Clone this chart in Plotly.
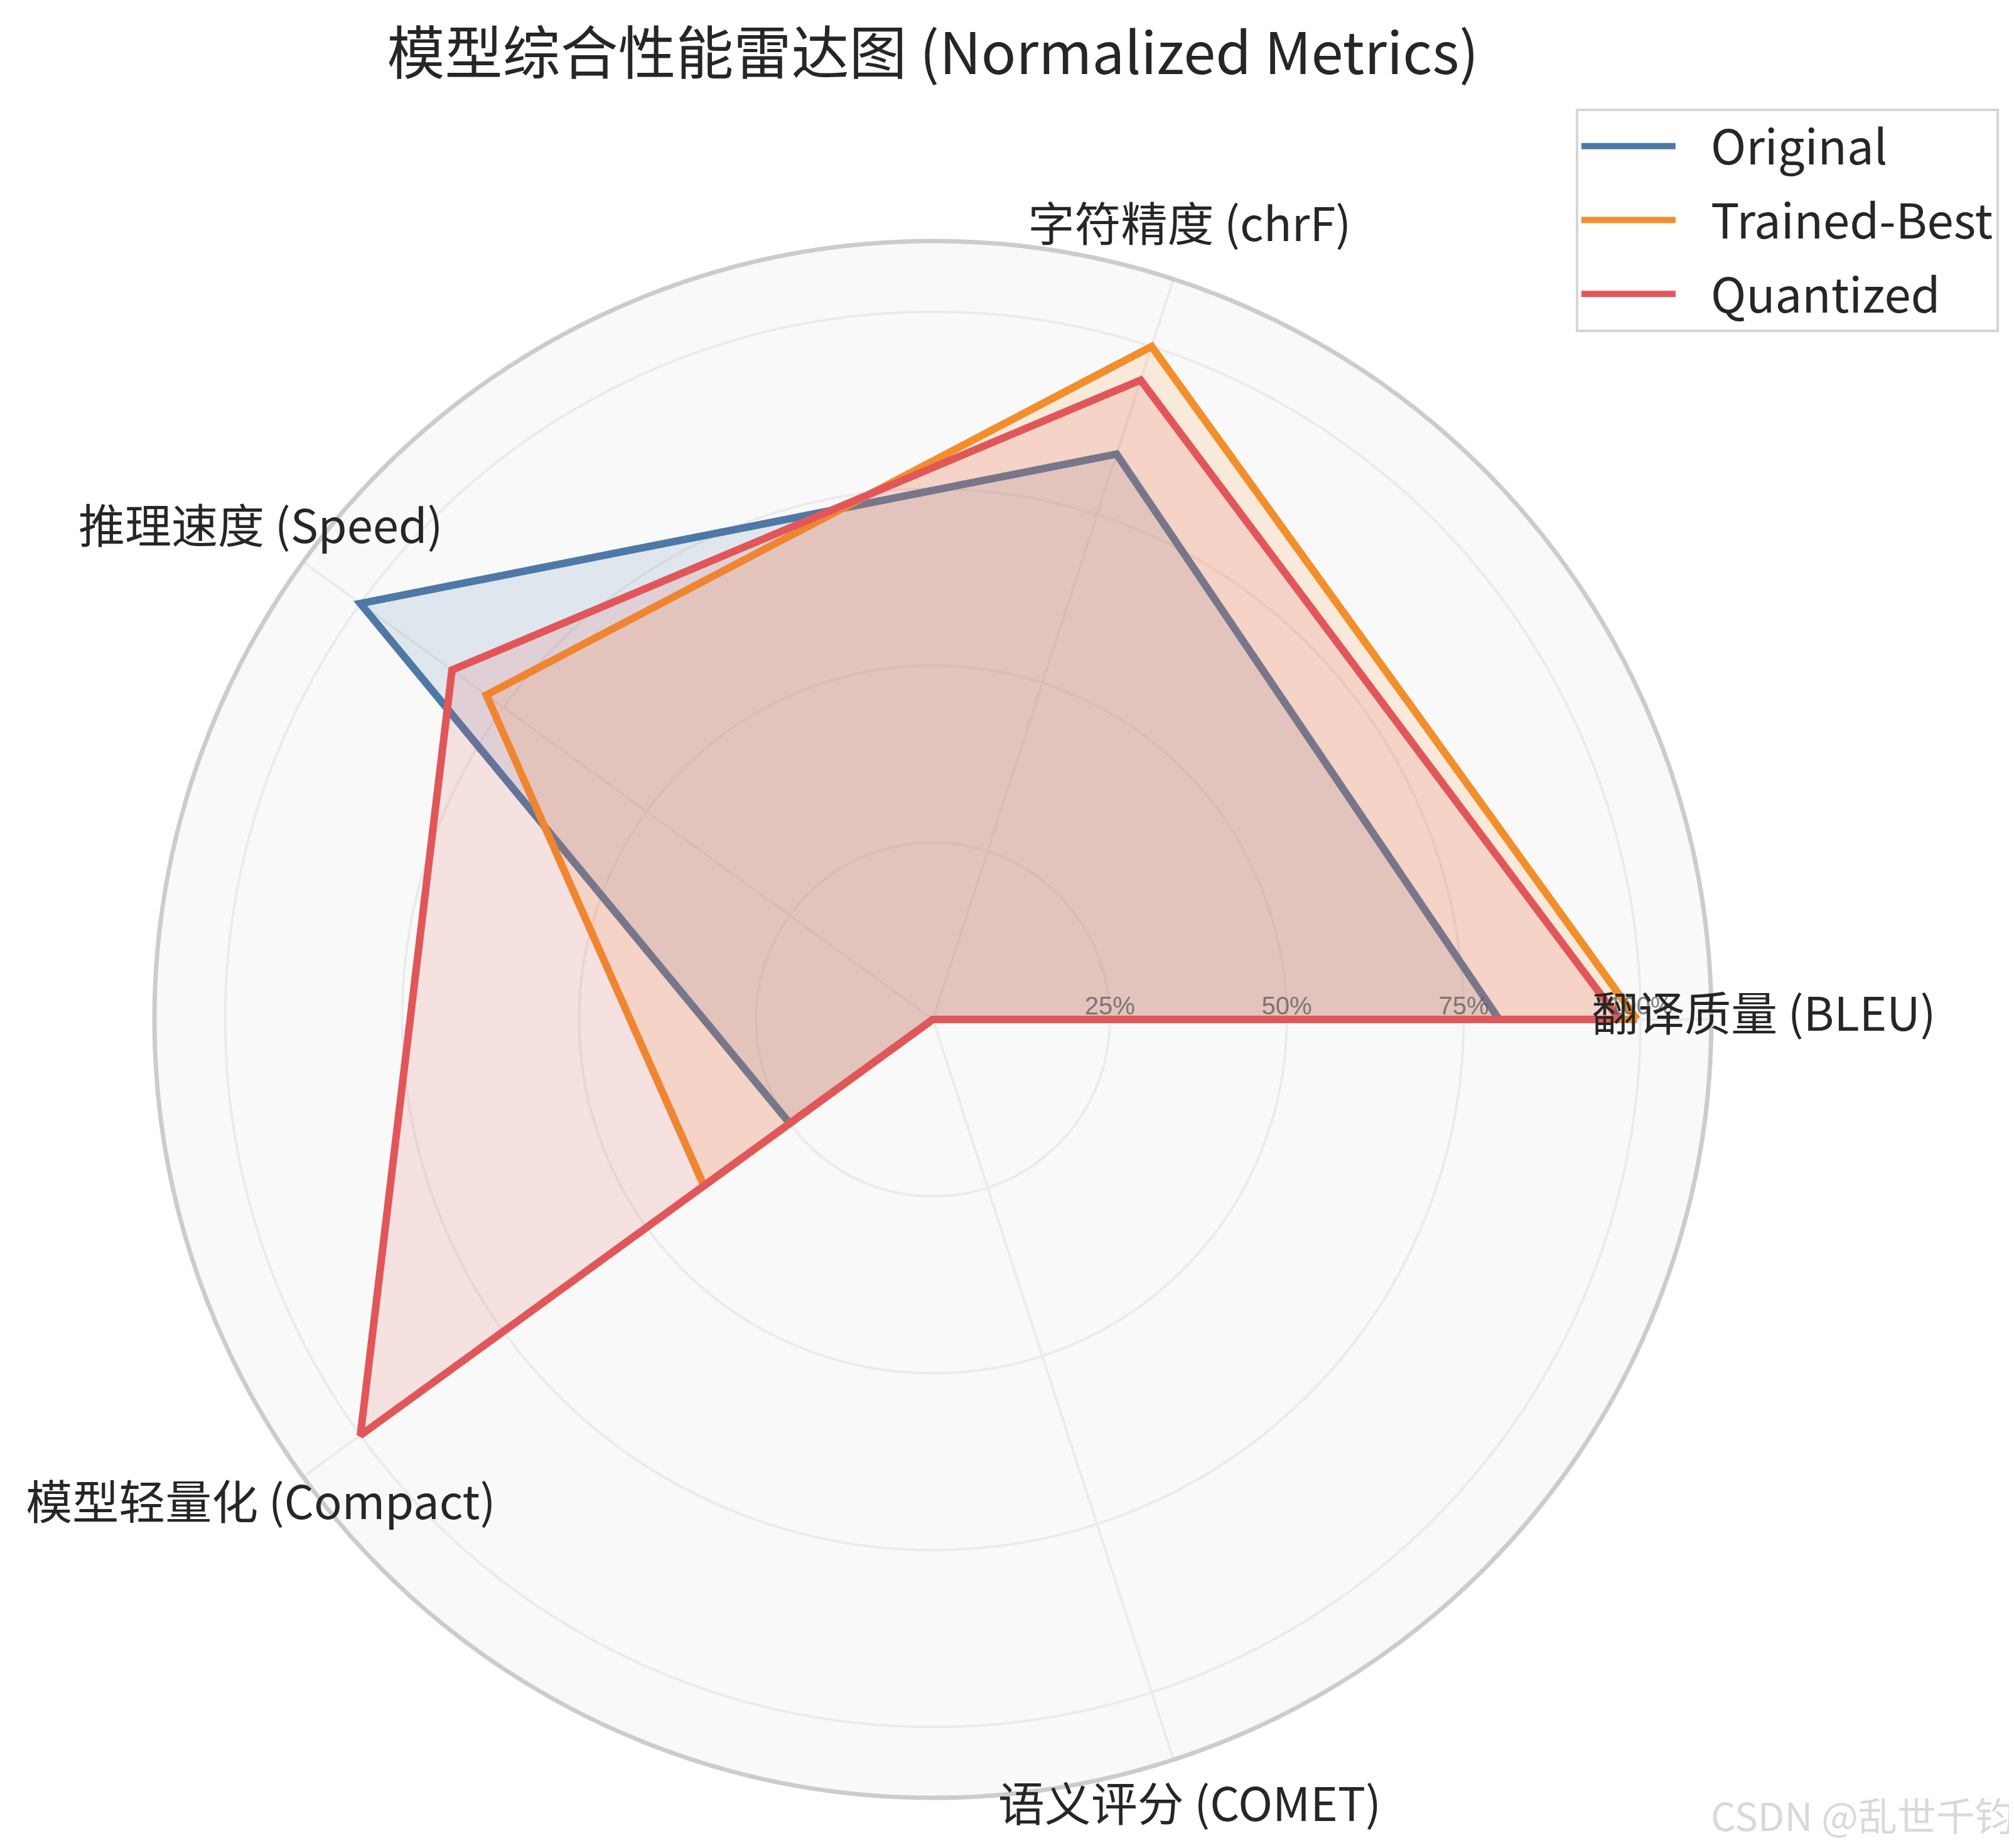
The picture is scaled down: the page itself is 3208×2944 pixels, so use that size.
import plotly.graph_objects as go

# axes of the radar, counterclockwise from 3 o'clock
categories = ["翻译质量 (BLEU)", "字符精度 (chrF)", "推理速度 (Speed)",
              "模型轻量化 (Compact)", "语义评分 (COMET)"]

# normalized scores (0..1)
original = [0.80, 0.84, 1.00, 0.25, 0.0]
trained_best = [0.995, 1.00, 0.78, 0.40, 0.0]
quantized = [0.97, 0.95, 0.84, 1.00, 0.0]

model_names = ["Original", "Trained-Best", "Quantized"]
radial_ticks = [0.25, 0.50, 0.75, 1.00]
radial_tick_text = ["25%", "50%", "75%", "100%"]

colors = ["#4e79a7", "#f28e2b", "#e15759"]
fills = ["rgba(78,121,167,0.15)", "rgba(242,142,43,0.15)", "rgba(225,87,89,0.15)"]

FONT = "Noto Sans CJK SC"
R_MAX = 1.1
LABEL_R = 1.174  # where the axis names sit, in radial units
LEGEND_GAP = "\u00a0" * 3  # plotly puts legend text right against the line

# polar centre / radius in px (page is 3208 x 2944)
W, H = 3208, 2944
CX, CY, RAD = 1478, 1616, 1240


def domain(radius_px):
    cy_b = H - CY
    return dict(x=[(CX - radius_px) / W, (CX + radius_px) / W],
                y=[(cy_b - radius_px) / H, (cy_b + radius_px) / H])


fig = go.Figure()

for name, vals, col, fc in zip(model_names, [original, trained_best, quantized], colors, fills):
    theta = categories + categories[:1]
    r = vals + vals[:1]
    # fill first, then the outline on top (same order as the source chart)
    fig.add_trace(go.Scatterpolar(
        r=r, theta=theta, mode="lines", fill="toself", fillcolor=fc,
        line=dict(width=0, color=col), showlegend=False, hoverinfo="skip",
        legendgroup=name))
    fig.add_trace(go.Scatterpolar(
        r=r, theta=theta, mode="lines", name=LEGEND_GAP + name, legendgroup=name,
        line=dict(width=12, color=col)))

# axis names live on a second, invisible polar so they can sit outside the ring
fig.add_trace(go.Scatterpolar(
    r=[LABEL_R] * len(categories), theta=categories, mode="text",
    text=categories, textposition="middle center",
    textfont=dict(family=FONT, size=74, color="#262626"),
    cliponaxis=False, showlegend=False, hoverinfo="skip", subplot="polar2"))

hidden_axis = dict(visible=False, showgrid=False, showline=False, showticklabels=False, ticks="")

fig.update_layout(
    width=W, height=H,
    margin=dict(l=0, r=0, t=0, b=0, pad=0),
    paper_bgcolor="white",
    plot_bgcolor="white",
    font=dict(family=FONT, color="#262626"),
    title=dict(text="模型综合性能雷达图 (Normalized Metrics)",
               x=0.4607, xanchor="center", y=0.9735, yanchor="middle",
               font=dict(family=FONT, size=92, color="#262626")),
    polar=dict(
        domain=domain(RAD),
        bgcolor="#f9f9f9",
        radialaxis=dict(
            range=[0, R_MAX], tickvals=radial_ticks, ticktext=radial_tick_text,
            angle=0, tickangle=0, side="counterclockwise",
            showline=False, ticks="",
            gridcolor="#ebebeb", gridwidth=3.5,
            tickfont=dict(family="Liberation Sans", size=40, color="rgba(90,90,90,0.75)"),
        ),
        angularaxis=dict(
            categoryarray=categories, categoryorder="array",
            rotation=0, direction="counterclockwise",
            showticklabels=False, ticks="",
            gridcolor="#ebebeb", gridwidth=3.5,
            showline=True, linecolor="#cccccc", linewidth=7,
        ),
    ),
    polar2=dict(
        domain=domain(RAD * LABEL_R / R_MAX),
        bgcolor="rgba(0,0,0,0)",
        radialaxis=dict(range=[0, LABEL_R], **hidden_axis),
        angularaxis=dict(categoryarray=categories, categoryorder="array",
                         rotation=0, direction="counterclockwise", **hidden_axis),
    ),
    legend=dict(
        x=0.99, xanchor="right", y=0.944, yanchor="top",
        bgcolor="white", bordercolor="#d5d5d5", borderwidth=4,
        font=dict(family=FONT, size=76, color="#262626"),
        itemwidth=150, tracegroupgap=16,
    ),
    annotations=[dict(
        text="CSDN @乱世千钧", xref="paper", yref="paper",
        x=0.998, xanchor="right", y=0.005, yanchor="bottom",
        showarrow=False,
        font=dict(family=FONT, size=62, color="#d9d9d9"),
    )],
)

fig.write_html("out.html")
